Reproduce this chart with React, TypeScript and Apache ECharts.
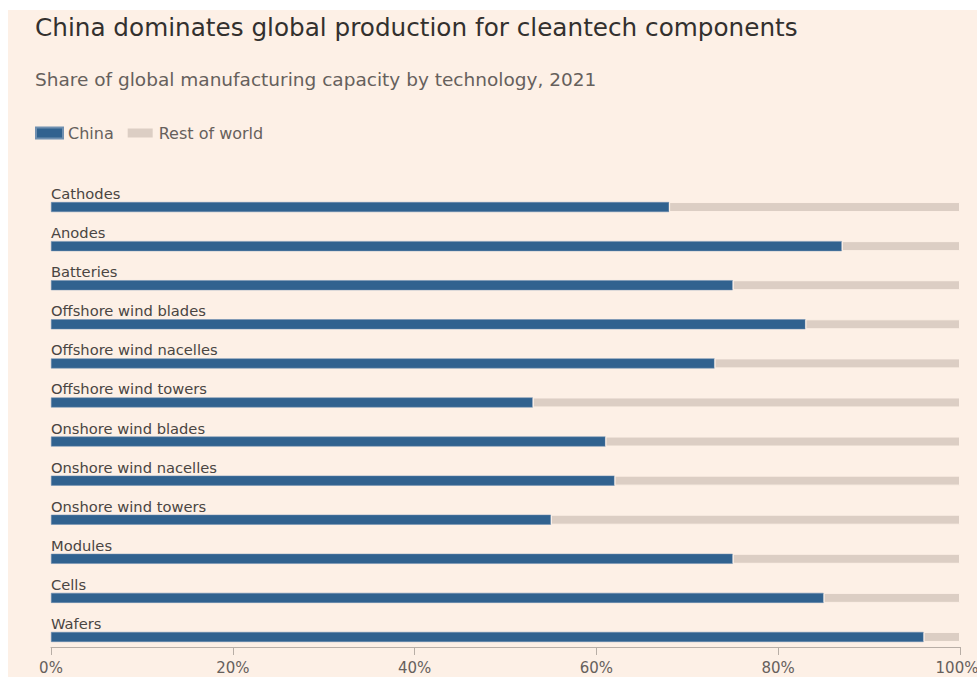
import React, { useEffect, useRef } from "react";
import * as echarts from "echarts";

const categories = [
  "Cathodes",
  "Anodes",
  "Batteries",
  "Offshore wind blades",
  "Offshore wind nacelles",
  "Offshore wind towers",
  "Onshore wind blades",
  "Onshore wind nacelles",
  "Onshore wind towers",
  "Modules",
  "Cells",
  "Wafers",
];
const chinaShare = [68, 87, 75, 83, 73, 53, 61, 62, 55, 75, 85, 96];
const restOfWorld = chinaShare.map((v) => 100 - v);
const xTicks = [0, 20, 40, 60, 80, 100];

const BG = "#fdf0e6";
const BLUE = "#31628f";
const GREY = "#dccec4";
const FONT = "'DejaVu Sans', sans-serif";

export default function App() {
  const ref = useRef<HTMLDivElement>(null);
  useEffect(() => {
    if (!ref.current) return;
    const chart = echarts.init(ref.current, undefined, { renderer: "svg" });
    chart.setOption({
      animation: false,
      backgroundColor: "#ffffff",
      textStyle: { fontFamily: FONT },
      graphic: [
        {
          type: "rect",
          z: -10,
          silent: true,
          shape: { x: 8, y: 10, width: 977, height: 677 },
          style: { fill: BG },
        },
      ],
      title: [
        {
          text: "China dominates global production for cleantech components",
          left: 30,
          top: 10,
          textStyle: { fontFamily: FONT, fontSize: 24.7, fontWeight: "normal", color: "#33302e" },
        },
        {
          text: "Share of global manufacturing capacity by technology, 2021",
          left: 30,
          top: 65,
          textStyle: { fontFamily: FONT, fontSize: 18.5, fontWeight: "normal", color: "#66605c" },
        },
      ],
      legend: {
        left: 30,
        top: 120,
        icon: "rect",
        itemWidth: 27,
        itemHeight: 11,
        itemGap: 12,
        textStyle: { fontFamily: FONT, fontSize: 16, color: "#66605c" },
        data: ["China", "Rest of world"],
      },
      grid: {
        left: 51,
        right: 17,
        top: 187.5,
        bottom: 20.5,
        containLabel: false,
        outerBoundsMode: "none",
      },
      xAxis: {
        type: "value",
        min: 0,
        max: 100,
        interval: 20,
        offset: -9.5,
        axisLine: { show: true, lineStyle: { color: "#b8aea6", width: 1 } },
        axisTick: { show: true, length: 8, lineStyle: { color: "#b8aea6" } },
        splitLine: { show: false },
        axisLabel: {
          margin: 13,
          fontFamily: FONT,
          fontSize: 15,
          color: "#66605c",
          formatter: (v: number) =>
            xTicks.includes(v) ? (v === 100 ? "{e|" + v + "%}" : v + "%") : "",
          rich: {
            e: { fontFamily: FONT, fontSize: 15, color: "#66605c", padding: [0, 6, 0, 0] },
          },
        },
      },
      yAxis: {
        type: "category",
        inverse: true,
        data: categories,
        axisLine: { show: false },
        axisTick: { show: false },
        axisLabel: {
          inside: true,
          margin: 0,
          align: "left",
          verticalAlign: "bottom",
          padding: [0, 0, 6, 0],
          fontFamily: FONT,
          fontSize: 14.7,
          color: "#4a4542",
        },
      },
      series: [
        {
          name: "China",
          type: "bar",
          stack: "total",
          barWidth: 10,
          data: chinaShare,
          itemStyle: { color: BLUE, borderColor: "#6f8fb0", borderWidth: 0.5 },
        },
        {
          name: "Rest of world",
          type: "bar",
          stack: "total",
          barWidth: 10,
          data: restOfWorld,
          itemStyle: { color: GREY, borderColor: BG, borderWidth: 1 },
        },
      ],
    });
    return () => chart.dispose();
  }, []);
  return (
    <div
      ref={ref}
      style={{ position: "fixed", left: 0, top: 0, width: 977, height: 677 }}
    />
  );
}
